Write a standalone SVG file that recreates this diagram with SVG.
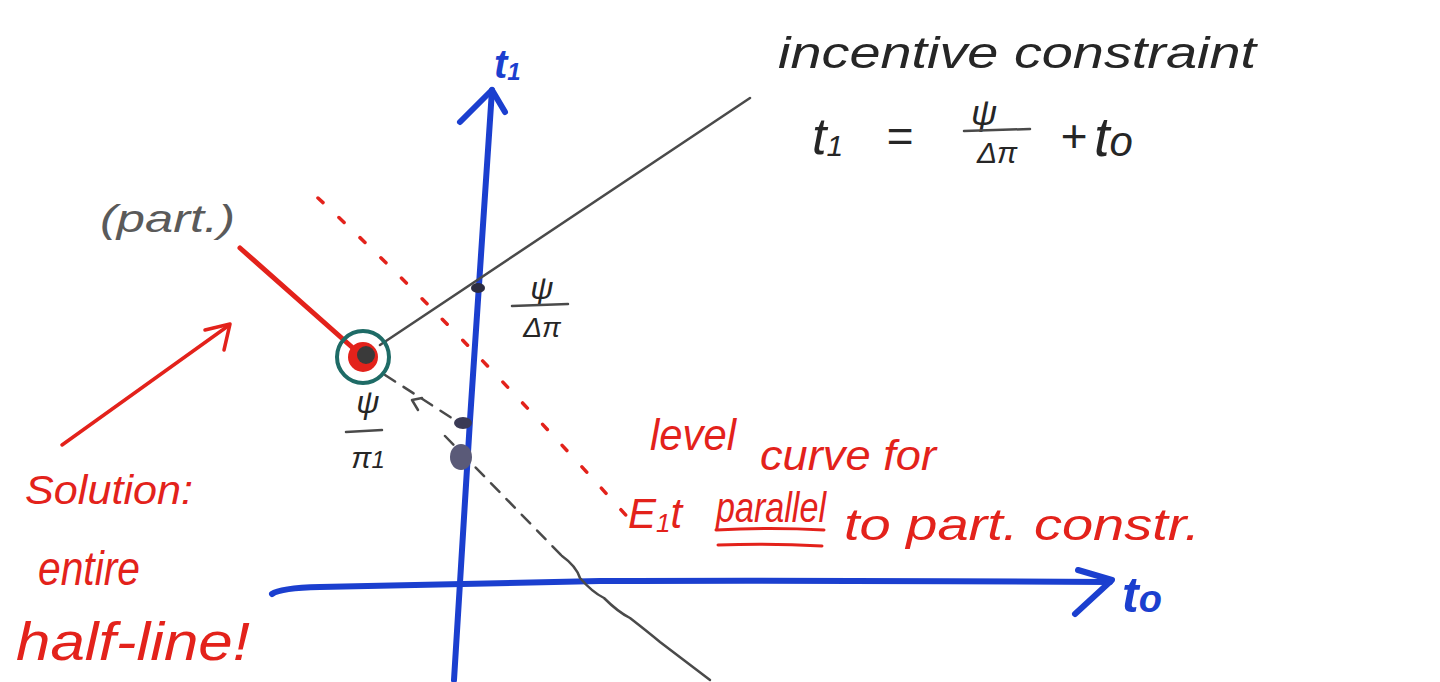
<svg xmlns="http://www.w3.org/2000/svg" width="1440" height="682" viewBox="0 0 1440 682">
<style>
.blue{stroke:#1b3fcf;stroke-width:6;fill:none;stroke-linecap:round;stroke-linejoin:round}
.red{stroke:#e3221b;fill:none;stroke-linecap:round;stroke-linejoin:round}
.gray{stroke:#4a4a4a;stroke-width:2.5;fill:none;stroke-linecap:round}
.hw{font-family:"Liberation Sans","DejaVu Sans",sans-serif;font-style:italic}
.tr{fill:#e3221b}
.tk{fill:#262626}
.tg{fill:#5a5a5a}
.tb{fill:#1b3fcf;font-weight:bold}
</style>
<rect width="1440" height="682" fill="#ffffff"/>
<g id="connectors">
  <!-- t1 axis -->
  <path class="blue" d="M454,680 L470,420 L492,90"/>
  <path class="blue" d="M460,122 L492,90 L505,112"/>
  <!-- t0 axis -->
  <path class="blue" d="M272,594 Q280,588 320,587 L600,581 Q800,580 1110,582"/>
  <path class="blue" d="M1078,570 L1112,580 L1075,614"/>
  <!-- incentive constraint -->
  <path class="gray" d="M380,345 L750,98"/>
  <!-- dashed line to the lower right -->
  <path class="gray" stroke-dasharray="12 10" d="M385,375 L458,422"/>
  <path class="gray" d="M412,400 L422,398 M412,400 L418,410"/>
  <path class="gray" stroke-dasharray="12 10" d="M445,436 L562,556"/>
  <path class="gray" stroke-width="2" d="M562,556 Q576,566 580,578 Q592,592 604,598 Q618,612 630,618 Q648,632 660,642 L710,680"/>
  <!-- participation constraint (red solid) -->
  <path class="red" stroke-width="5" d="M240,248 L362,356"/>
  <!-- level curve (red dotted) -->
  <path class="red" stroke-width="3.5" stroke-dasharray="7 22" d="M318,198 Q450,320 632,522"/>
  <!-- solution arrow -->
  <path class="red" stroke-width="3.5" d="M62,445 L228,326"/>
  <path class="red" stroke-width="3.5" d="M205,330 L230,324 L224,350"/>
  <!-- double underline -->
  <path class="red" stroke-width="3" d="M716,530 Q770,527 824,530"/>
  <path class="red" stroke-width="3" d="M718,545 Q770,543 822,546"/>
</g>
<g id="solution-point">
  <circle cx="363" cy="357" r="15" fill="#e3221b"/>
  <circle cx="366" cy="355" r="9" fill="#3a3a3a"/>
  <circle cx="363" cy="357" r="26" fill="none" stroke="#1e6b66" stroke-width="4"/>
</g>
<g id="axis-points">
  <ellipse cx="478" cy="288" rx="7" ry="5" fill="#2c2c40"/>
  <ellipse cx="463" cy="423" rx="9" ry="6" fill="#3a3a55"/>
  <ellipse cx="461" cy="457" rx="11" ry="13" fill="#5a5a78"/>
</g>
<g id="labels">
  <text class="hw tb" x="494" y="78" font-size="40">t<tspan font-size="24" dy="2">1</tspan></text>
  <text class="hw tb" x="1122" y="612" font-size="50">t<tspan font-size="38">o</tspan></text>
  <text class="hw tg" x="100" y="232" font-size="38" textLength="135" lengthAdjust="spacingAndGlyphs">(part.)</text>
  <text class="hw tk" x="778" y="68" font-size="44" textLength="478" lengthAdjust="spacingAndGlyphs">incentive constraint</text>
  <text class="hw tk" x="812" y="154" font-size="52">t<tspan font-size="30" dy="2">1</tspan></text>
  <text class="hw tk" x="886" y="152" font-size="46">=</text>
  <text class="hw tk" x="984" y="125" font-size="36" text-anchor="middle">ψ</text>
  <path class="gray" stroke-width="3" d="M964,131 L1030,129"/>
  <text class="hw tk" x="997" y="163" font-size="30" text-anchor="middle">Δπ</text>
  <text class="hw tk" x="1060" y="152" font-size="46">+</text>
  <text class="hw tk" x="1094" y="156" font-size="56">t<tspan font-size="42">o</tspan></text>
  <text class="hw tk" x="542" y="299" font-size="32" text-anchor="middle">ψ</text>
  <path class="gray" stroke-width="3" d="M512,306 L568,304"/>
  <text class="hw tk" x="542" y="337" font-size="28" text-anchor="middle">Δπ</text>
  <text class="hw tk" x="368" y="413" font-size="32" text-anchor="middle">ψ</text>
  <path class="gray" stroke-width="3" d="M346,432 L382,430"/>
  <text class="hw tk" x="368" y="468" font-size="30" text-anchor="middle">π<tspan font-size="24">1</tspan></text>
  <text class="hw tr" x="25" y="504" font-size="40" textLength="168" lengthAdjust="spacingAndGlyphs">Solution:</text>
  <text class="hw tr" x="38" y="585" font-size="48" textLength="102" lengthAdjust="spacingAndGlyphs">entire</text>
  <text class="hw tr" x="16" y="660" font-size="54" textLength="234" lengthAdjust="spacingAndGlyphs">half-line!</text>
  <text class="hw tr" x="650" y="450" font-size="44" textLength="86" lengthAdjust="spacingAndGlyphs">level</text>
  <text class="hw tr" x="760" y="470" font-size="42" textLength="176" lengthAdjust="spacingAndGlyphs">curve for</text>
  <text class="hw tr" x="628" y="528" font-size="42">E<tspan font-size="26" dy="4">1</tspan><tspan dy="-4">t</tspan></text>
  <text class="hw tr" x="716" y="522" font-size="42" textLength="110" lengthAdjust="spacingAndGlyphs">parallel</text>
  <text class="hw tr" x="844" y="540" font-size="44" textLength="356" lengthAdjust="spacingAndGlyphs">to part. constr.</text>
</g>
</svg>
